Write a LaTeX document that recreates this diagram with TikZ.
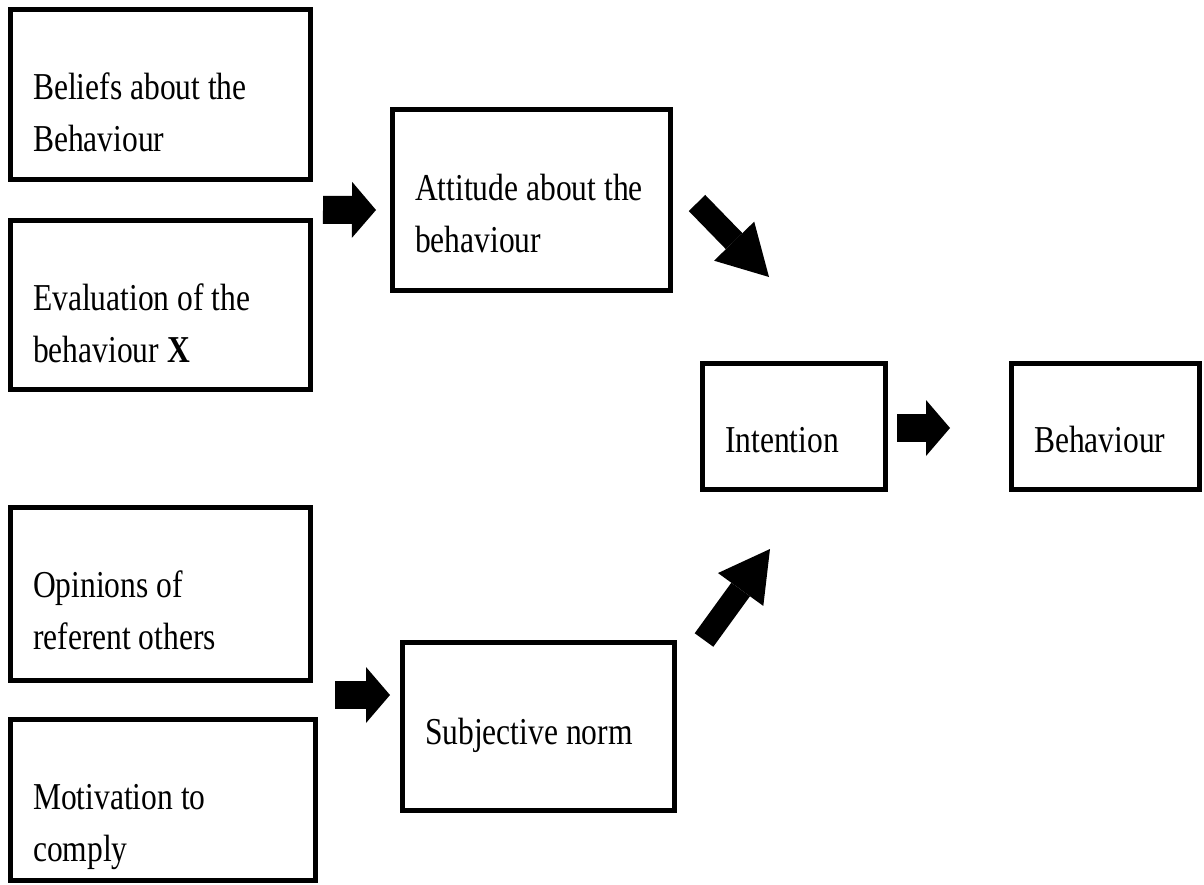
\documentclass[tikz,border=0pt]{standalone}
\usepackage{fontspec}
\setmainfont[FakeStretch=0.83]{Liberation Serif}
\usepackage{tikz}
\usetikzlibrary{calc,arrows.meta}
\newcommand\boxfont{\fontsize{38}{52}\selectfont}
\newcommand\wordgap{\spaceskip=7.9pt\xspaceskip=7.9pt\relax}

\begin{document}
\begin{tikzpicture}[x=1pt,y=-1pt,
  box/.style={draw, line width=5.5pt, rectangle, anchor=north west, inner xsep=22.5pt, inner ysep=0pt, outer sep=0pt, align=left, font=\boxfont, execute at begin node=\wordgap},
  blockarrow/.style={line width=28pt, -{Triangle[length=24pt,width=56pt,line width=0pt]}},
  slantarrow/.style={line width=23pt, -{Triangle[length=50pt,width=56pt,line width=0pt]}}]
\useasboundingbox (0,0) rectangle (1204,884);
\node[box, text width=255pt, text height=89.5pt, text depth=80.5pt] (bel) at (10.5,9.5) {Beliefs about the\\Behaviour};
\node[box, text width=255pt, text height=89.5pt, text depth=79.5pt] (eva) at (10.5,220.5) {Evaluation of the\\behaviour \textbf{X}};
\node[box, text width=233pt, text height=90.5pt, text depth=90.5pt] (att) at (392.5,109.5) {Attitude about the\\behaviour};
\node[box, text width=255pt, text height=89.5pt, text depth=83.5pt] (opi) at (10.5,507.5) {Opinions of\\referent others};
\node[box, text width=260pt, text height=89.5pt, text depth=71.5pt] (mot) at (10.5,719.5) {Motivation to\\comply};
\node[box, text width=227pt, text height=101.5pt, text depth=66.5pt] (sub) at (402.5,642.5) {Subjective norm};
\node[box, text width=138pt, text height=88.5pt, text depth=37.5pt] (int) at (702.5,363.5) {Intention};
\node[box, text width=143pt, text height=88.5pt, text depth=37.5pt] (beh) at (1011.5,363.5) {Behaviour};

\draw[blockarrow] ($(bel.east)!.5!(eva.east)+(12.5,10)$) -- ($(att.west)+(-16.5,10)$);
\draw[blockarrow] ($(opi.east)!.5!(mot.east)+(22,-2)$) -- ($(sub.west)+(-12.5,-31.5)$);
\draw[blockarrow] ($(int.east)+(11.5,1.5)$) -- ($(beh.west)+(-61.5,1.5)$);
\draw[slantarrow] ($(att.east)+(26.5,3)$) -- ($(int.north west)+(66.5,-86.5)$);
\draw[slantarrow] ($(sub.east)+(29.5,-86.5)$) -- ($(int.south west)+(67.5,59.5)$);
\end{tikzpicture}
\end{document}
